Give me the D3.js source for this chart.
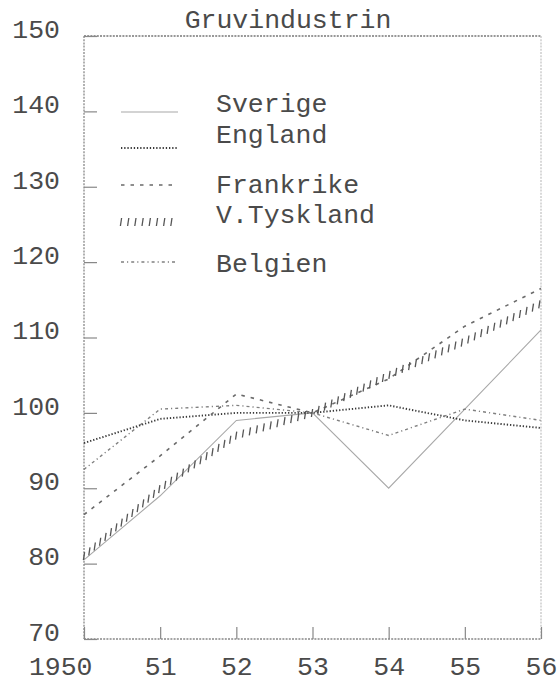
<!DOCTYPE html>
<html lang="sv">
<head>
    <meta charset="UTF-8">
    <title>Gruvindustrin</title>
    <script src="https://cdn.jsdelivr.net/npm/d3@7"></script>
    <style>
        body { margin: 0; background: #fff; }
        text { font-family: "Courier New", "Liberation Mono", monospace; fill: #4a4a4a; }
    </style>
</head>
<body>
<div id="main"></div>
<script>
    // index, 1953 = 100
    const years = [1950, 1951, 1952, 1953, 1954, 1955, 1956]
    const yearLabels = ["1950", "51", "52", "53", "54", "55", "56"]
    const yTicks = [70, 80, 90, 100, 110, 120, 130, 140, 150]

    const sverige = [80.5, 89, 99, 100, 90, 100.5, 111]
    const england = [96, 99.2, 100, 100, 101, 99, 98]
    const frankrike = [86.5, 94.3, 102.5, 100, 104.5, 111.5, 116.5]
    const vTyskland = [81, 90, 97, 100, 105, 109.5, 114.5]
    const belgien = [92.5, 100.5, 101, 100, 97, 100.5, 99]

    const seriesNames = ["Sverige", "England", "Frankrike", "V.Tyskland", "Belgien"]
    const seriesValues = [sverige, england, frankrike, vTyskland, belgien]

    // utseende per serie
    const styles = {
        "Sverige":    {stroke: "#a8a8a8", width: 1.1, dash: null},
        "England":    {stroke: "#3a3a3a", width: 1.9, dash: "1.3,1.9"},
        "Frankrike":  {stroke: "#6a6a6a", width: 1.6, dash: "3.5,6"},
        "V.Tyskland": {stroke: "#555", width: 1.3, bars: true},
        "Belgien":    {stroke: "#808080", width: 1.4, dash: "3,3,1.2,3"}
    }

    const W = 557, H = 683
    const fontSize = 26.5

    let svg = d3.select("#main").append("svg")
        .attr("width", W)
        .attr("height", H)

    let x = d3.scaleLinear().domain([1950, 1956]).range([84, 541])
    let y = d3.scaleLinear().domain([70, 150]).range([639, 36])

    // ram
    let frame = svg.append("g")
        .attr("fill", "none")
        .attr("stroke-dasharray", "2,1.2")
    frame.append("line")
        .attr("x1", x(1950)).attr("x2", x(1956)).attr("y1", y(150)).attr("y2", y(150))
        .attr("stroke", "#777").attr("stroke-width", 1.4)
    frame.append("line")
        .attr("x1", x(1950)).attr("x2", x(1956)).attr("y1", y(70)).attr("y2", y(70))
        .attr("stroke", "#888").attr("stroke-width", 1.3)
    frame.append("line")
        .attr("x1", x(1950)).attr("x2", x(1950)).attr("y1", y(150)).attr("y2", y(70))
        .attr("stroke", "#888").attr("stroke-width", 1.3)
    frame.append("line")
        .attr("x1", x(1956)).attr("x2", x(1956)).attr("y1", y(150)).attr("y2", y(70))
        .attr("stroke", "#bbb").attr("stroke-width", 1.1)

    // y-axel
    let yAxis = d3.axisLeft(y)
        .tickValues(yTicks)
        .tickFormat(d3.format("d"))
        .tickSizeInner(-13)
        .tickSizeOuter(0)
        .tickPadding(24)

    let gy = svg.append("g")
        .attr("transform", `translate(${x(1950)},0)`)
        .call(yAxis)
    gy.select(".domain").remove()
    gy.selectAll(".tick line").attr("stroke", "#888").attr("stroke-width", 1.2)
    gy.selectAll(".tick text")
        .attr("font-size", fontSize)
        .attr("dy", "0.05em")
        .style("font-family", "'Courier New', 'Liberation Mono', monospace")
        .attr("fill", "#4a4a4a")

    // x-axel
    let xAxis = d3.axisBottom(x)
        .tickValues(years)
        .tickFormat((d, i) => yearLabels[i])
        .tickSizeInner(-12)
        .tickSizeOuter(0)
        .tickPadding(17)

    let gx = svg.append("g")
        .attr("transform", `translate(0,${y(70)})`)
        .call(xAxis)
    gx.select(".domain").remove()
    gx.selectAll(".tick line").attr("stroke", "#888").attr("stroke-width", 1.2)
    gx.selectAll(".tick text")
        .attr("font-size", fontSize)
        .style("font-family", "'Courier New', 'Liberation Mono', monospace")
        .attr("fill", "#4a4a4a")
    gx.selectAll(".tick text").filter(d => d === 1950)
        .attr("text-anchor", "end")
        .attr("x", 8)

    // rubrik
    svg.append("text")
        .attr("x", 288)
        .attr("y", 28)
        .attr("text-anchor", "middle")
        .attr("font-size", fontSize)
        .text("Gruvindustrin")

    let line = d3.line()
        .x((d, i) => x(years[i]))
        .y(d => y(d))

    // typewriter-streck: korta lodräta streck längs en bana
    function drawBars(g, pathNode, st) {
        let len = pathNode.getTotalLength()
        let pts = d3.range(0, len, 7.2).map(l => pathNode.getPointAtLength(l))
        g.selectAll("line.bar")
            .data(pts)
            .enter()
            .append("line")
            .attr("class", "bar")
            .attr("x1", p => p.x - 0.6)
            .attr("x2", p => p.x + 0.6)
            .attr("y1", p => p.y + 4)
            .attr("y2", p => p.y - 4)
            .attr("stroke", st.stroke)
            .attr("stroke-width", st.width)
    }

    let plot = svg.append("g")

    seriesNames.forEach((name, k) => {
        let st = styles[name]
        let g = plot.append("g").attr("class", "series")
        let p = g.append("path")
            .datum(seriesValues[k])
            .attr("d", line)
            .attr("fill", "none")
        if (st.bars) {
            p.attr("stroke", "none")
            drawBars(g, p.node(), st)
        } else {
            p.attr("stroke", st.stroke)
                .attr("stroke-width", st.width)
                .attr("stroke-dasharray", st.dash)
        }
    })

    // förklaring
    const legendLineY = [112, 148, 185, 222, 262]
    const legendTextY = [112, 143, 193, 223, 272]

    let legend = svg.append("g")
    seriesNames.forEach((name, k) => {
        let st = styles[name]
        let g = legend.append("g")
        let p = g.append("path")
            .attr("d", `M 121,${legendLineY[k]} L 178,${legendLineY[k]}`)
            .attr("fill", "none")
        if (st.bars) {
            p.attr("stroke", "none")
            drawBars(g, p.node(), st)
        } else {
            p.attr("stroke", st.stroke)
                .attr("stroke-width", st.width)
                .attr("stroke-dasharray", st.dash)
        }
        g.append("text")
            .attr("x", 216)
            .attr("y", legendTextY[k])
            .attr("font-size", fontSize)
            .text(name)
    })
</script>
</body>
</html>
